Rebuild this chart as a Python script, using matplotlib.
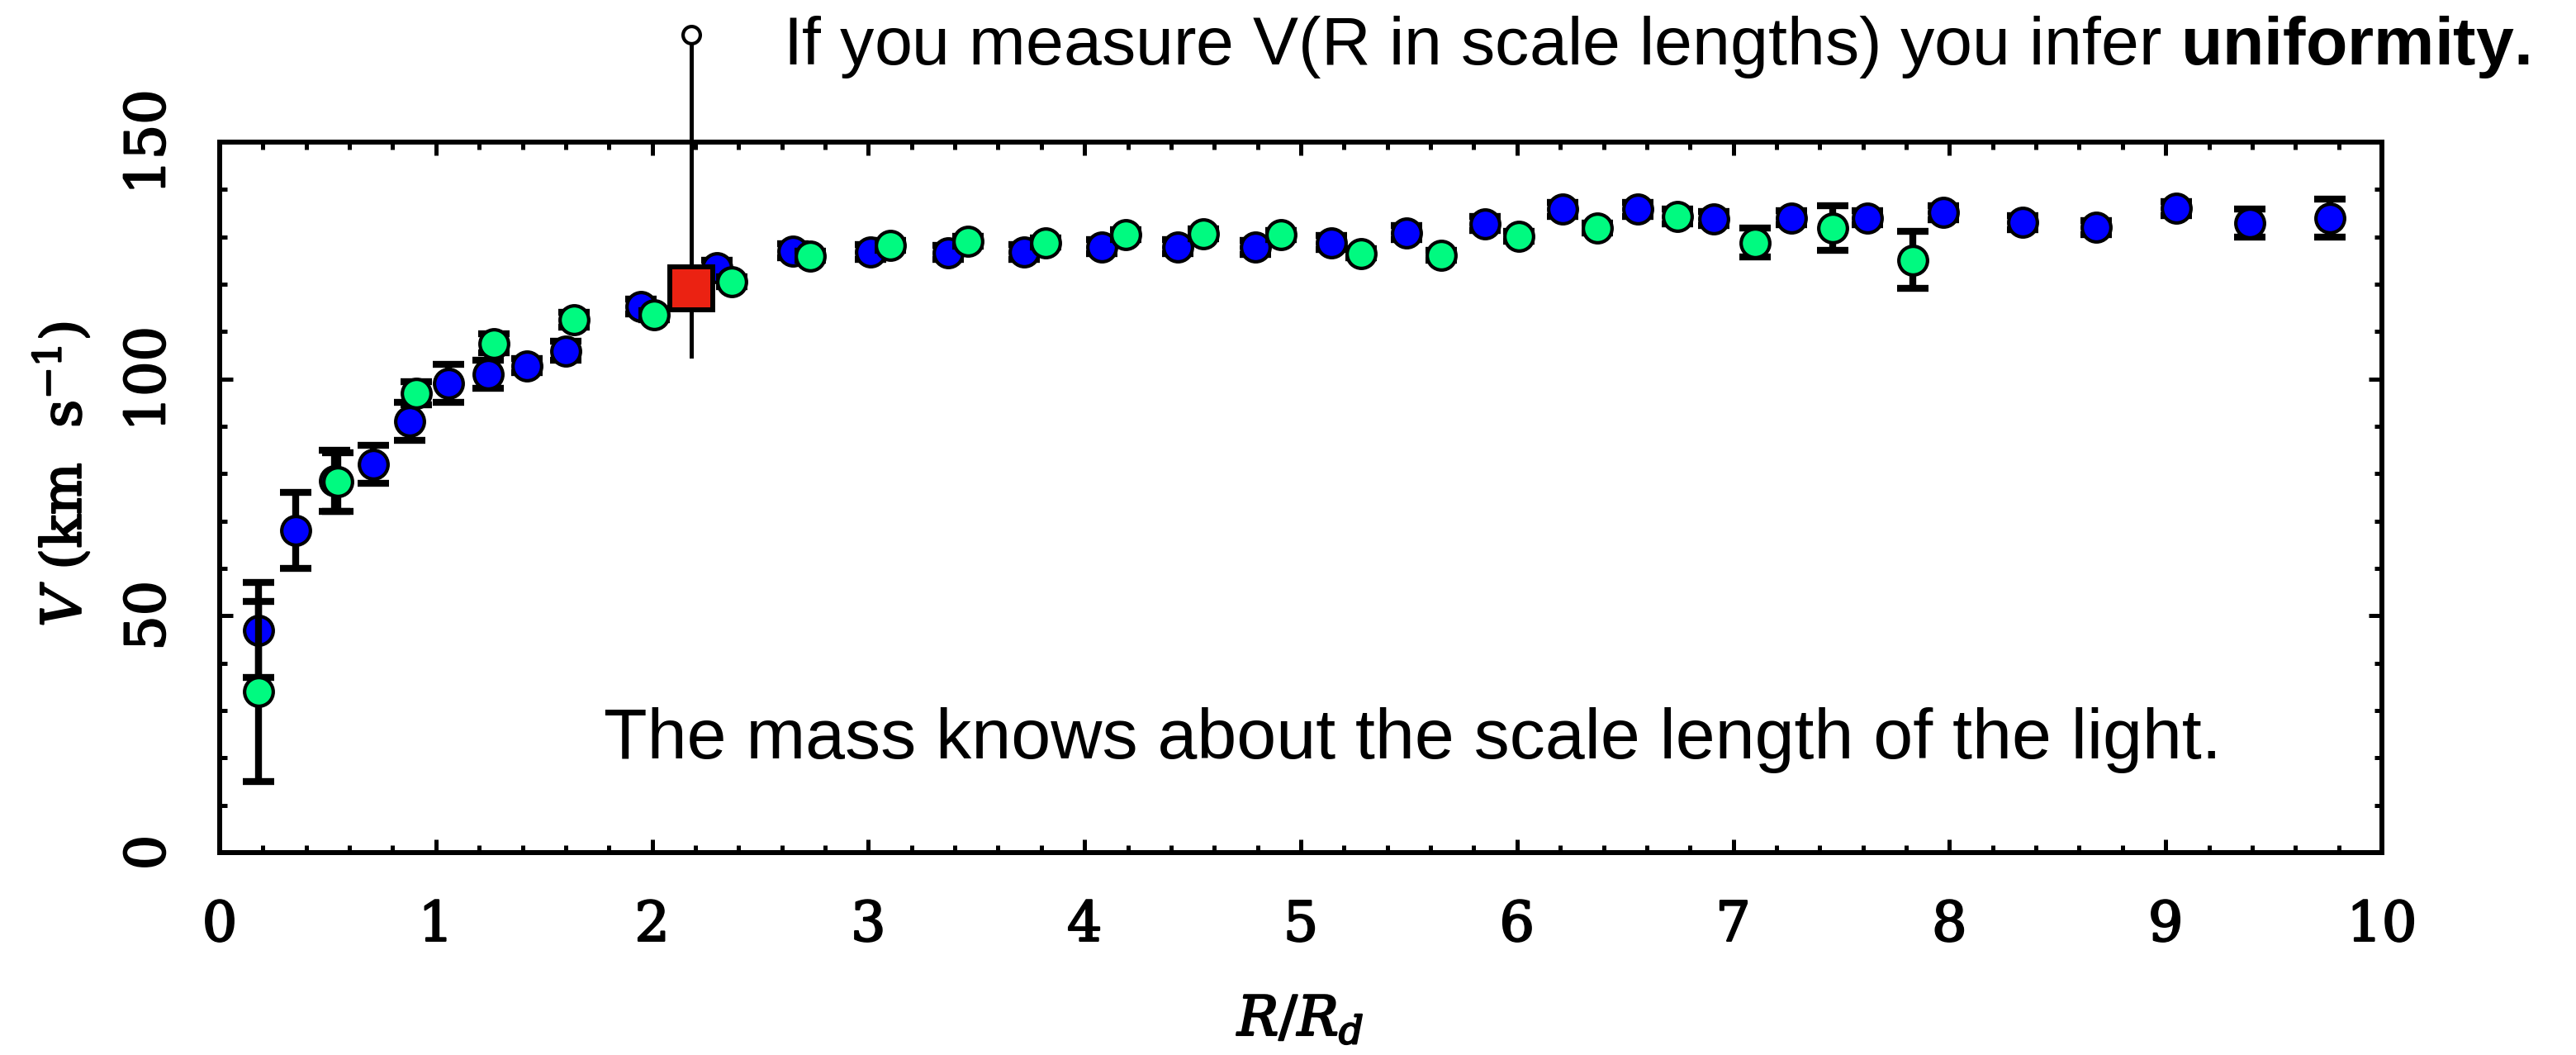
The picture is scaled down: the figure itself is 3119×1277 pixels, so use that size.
import matplotlib
matplotlib.use('Agg')
import matplotlib.pyplot as plt
import matplotlib.patheffects as pe
from matplotlib.ticker import MultipleLocator

# ---------------- data ----------------
blue_r = [0.18, 0.35, 0.53, 0.71, 0.88, 1.06, 1.24, 1.42, 1.60, 1.95, 2.30, 2.65,
          3.01, 3.37, 3.72, 4.08, 4.43, 4.79, 5.14, 5.49, 5.85, 6.21, 6.56, 6.91,
          7.27, 7.62, 7.97, 8.34, 8.68, 9.05, 9.39, 9.76]
blue_v = [47.0, 68.0, 78.5, 82.0, 91.0, 99.0, 101.0, 102.8, 105.9, 115.3, 123.5, 127.0,
          126.8, 126.7, 126.8, 127.9, 127.9, 127.8, 128.8, 130.9, 132.8, 135.8, 135.8, 133.8,
          134.0, 134.0, 135.1, 133.0, 132.0, 136.0, 132.9, 134.0]
blue_err = [10, 8, 6.5, 4, 4, 4, 3, 1.5, 2, 1.5, 1.5, 1.5,
            1.5, 1.5, 1.5, 1.5, 1.5, 1.5, 1.5, 1.5, 1.5, 1.5, 1.5, 1.5,
            1.5, 1.5, 1.5, 1.5, 1.5, 1.5, 3, 4]

green_r = [0.18, 0.545, 0.91, 1.27, 1.64, 2.01, 2.37, 2.73, 3.10, 3.46, 3.82,
           4.19, 4.55, 4.91, 5.28, 5.65, 6.01, 6.37, 6.74, 7.10, 7.46, 7.83]
green_v = [34.0, 78.3, 97.0, 107.5, 112.5, 113.5, 120.5, 126.0, 128.2, 129.1, 128.8,
           130.5, 130.6, 130.4, 126.5, 126.1, 130.1, 131.9, 134.3, 128.8, 131.9, 125.1]
green_err = [19, 6.2, 2.5, 2, 1.5, 1, 1, 1, 1, 1, 1,
             1, 1, 1, 1, 1, 1, 1, 1.5, 3, 4.7, 6]

red_r = [2.18]
red_v = [119.1]
red_lo = [104.8]
red_hi = [172.7]

x_ticks = [0, 1, 2, 3, 4, 5, 6, 7, 8, 9, 10]
y_ticks = [0, 50, 100, 150]

top_text = r"If you measure V(R in scale lengths) you infer $\mathbf{uniformity.}$"
inner_text = "The mass knows about the scale length of the light."

# ---------------- style ----------------
plt.rcParams['font.family'] = ['DejaVu Serif']
plt.rcParams['mathtext.fontset'] = 'custom'
plt.rcParams['mathtext.rm'] = 'DejaVu Serif'
plt.rcParams['mathtext.it'] = 'DejaVu Serif:italic'
plt.rcParams['mathtext.bf'] = 'Liberation Sans:bold'

BLUE = '#0000FF'
GREEN = '#00FA80'
RED = '#EB2212'
thick = [pe.withStroke(linewidth=1.6, foreground='black')]

fig = plt.figure(figsize=(31.19, 12.77), dpi=100)
ax = fig.add_axes([0.08528, 0.19186, 0.83937, 0.67345])

ax.set_xlim(0, 10)
ax.set_ylim(0, 150)

for s in ax.spines.values():
    s.set_linewidth(4.3)

ax.set_xticks(x_ticks)
ax.set_yticks(y_ticks)
ax.xaxis.set_minor_locator(MultipleLocator(0.2))
ax.yaxis.set_minor_locator(MultipleLocator(10))
ax.tick_params(which='both', direction='in', top=True, right=True, width=3.6)
ax.tick_params(which='major', length=11.5)
ax.tick_params(which='minor', length=6.5)
ax.tick_params(axis='x', which='major', pad=40, labelsize=48)
ax.tick_params(axis='y', which='major', pad=38, labelsize=48, labelrotation=90)
for lab in ax.get_yticklabels():
    lab.set_verticalalignment('center')
    lab.set_path_effects(thick)
for lab in ax.get_xticklabels():
    lab.set_path_effects(thick)

# error bars + markers
ebkw = dict(fmt='none', ecolor='black', elinewidth=6.0, capsize=14, capthick=6.0)
ax.errorbar(blue_r, blue_v, yerr=blue_err, zorder=3, **ebkw)
ax.plot(blue_r, blue_v, 'o', ms=25, mfc=BLUE, mec='black', mew=3.0, ls='none', zorder=4)
ax.errorbar(green_r, green_v, yerr=green_err, zorder=5, **ebkw)
ax.plot(green_r, green_v, 'o', ms=25, mfc=GREEN, mec='black', mew=3.0, ls='none', zorder=6)

# red point with long line and open circle on top
for r, lo, hi in zip(red_r, red_lo, red_hi):
    ax.plot([r, r], [lo, hi], color='black', lw=3.6, clip_on=False, zorder=7)
ax.plot(red_r, red_hi, 'o', ms=15, mfc='white', mec='black', mew=3.0, ls='none',
        clip_on=False, zorder=8)
ax.plot(red_r, red_v, 's', ms=37, mfc=RED, mec='black', mew=4.3, ls='none', zorder=9)

# labels
ax.text(-0.0641, 0.532, r'$V\ (\mathrm{km\ \ s^{-1}})$', transform=ax.transAxes,
        rotation=90, rotation_mode='anchor', ha='center', va='baseline', fontsize=48,
        path_effects=thick)
ax.text(0.5, -0.257, r'$R/R_d$', transform=ax.transAxes,
        ha='center', va='baseline', fontsize=48, path_effects=thick)

# annotations
ax.text(1.776, 19.8, inner_text, ha='left', va='baseline', fontsize=62,
        family='Liberation Sans', zorder=10)
fig.text(948 / 3119, 1 - 78 / 1277, top_text, ha='left', va='baseline', fontsize=59.4,
         family='Liberation Sans')

fig.savefig('out.png', dpi=100)
